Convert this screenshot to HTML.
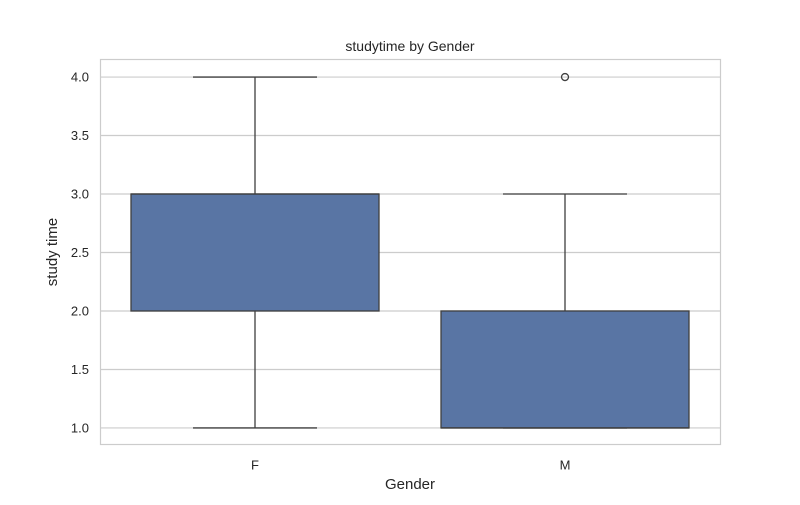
<!DOCTYPE html>
<html><head><meta charset="utf-8"><style>
body{margin:0;background:#fff;font-family:"Liberation Sans","DejaVu Sans",sans-serif;}
</style></head><body>
<svg id="chart" width="800" height="500" xmlns="http://www.w3.org/2000/svg">
<rect width="800" height="500" fill="#fff"/>
<g id="grid"></g>
<g id="boxes"></g>
<rect x="100.5" y="59.5" width="620" height="385" fill="none" stroke="#cccccc" stroke-width="1.2"/>
<g id="axes" font-size="13" fill="#262626"></g>
<text x="410" y="51" text-anchor="middle" font-size="14" fill="#262626">studytime by Gender</text>
<text x="410" y="489" text-anchor="middle" font-size="15" fill="#262626">Gender</text>
<text x="57" y="252" text-anchor="middle" font-size="15" fill="#262626" transform="rotate(-90 57 252)">study time</text>
</svg>
<script>
const categories=["F","M"];
const q1=[2,1];
const medians=[3,1];
const q3=[3,2];
const whiskLo=[1,1];
const whiskHi=[4,3];
const outliers=[[],[4]];
const yTicks=[1.0,1.5,2.0,2.5,3.0,3.5,4.0];
const NS="http://www.w3.org/2000/svg";
const L=100,R=720,T=59.5,B=445.5,yMin=0.85,yMax=4.15;
const y=v=>B-(v-yMin)/(yMax-yMin)*(B-T);
const x=i=>L+(i+0.5)/categories.length*(R-L);
const bw=(R-L)/categories.length*0.8;
function mk(tag,attrs,parent){const e=document.createElementNS(NS,tag);for(const k in attrs)e.setAttribute(k,attrs[k]);parent.appendChild(e);return e;}
const grid=document.getElementById('grid'),axes=document.getElementById('axes'),boxes=document.getElementById('boxes');
yTicks.forEach(t=>{
 const g=mk('line',{x1:L,x2:R,y1:y(t),y2:y(t),stroke:'#cccccc','stroke-width':1.2},grid);
 
 
 const tx=mk('text',{x:L-11,y:y(t)+4.5,'text-anchor':'end'},axes);tx.textContent=t.toFixed(1);
 
 
});
categories.forEach((c,i)=>{
 const tx=mk('text',{x:x(i),y:B+24,'text-anchor':'middle'},axes);tx.textContent=c;
 
 
 const g=mk('g',{},boxes);
 
 
 const st={stroke:'#3f3f3f','stroke-width':1.3};
 mk('line',Object.assign({x1:x(i),x2:x(i),y1:y(q3[i]),y2:y(whiskHi[i])},st),g);
 mk('line',Object.assign({x1:x(i),x2:x(i),y1:y(q1[i]),y2:y(whiskLo[i])},st),g);
 mk('line',Object.assign({x1:x(i)-bw/4,x2:x(i)+bw/4,y1:y(whiskHi[i]),y2:y(whiskHi[i])},st),g);
 mk('line',Object.assign({x1:x(i)-bw/4,x2:x(i)+bw/4,y1:y(whiskLo[i]),y2:y(whiskLo[i])},st),g);
 mk('rect',Object.assign({x:x(i)-bw/2,y:y(q3[i]),width:bw,height:y(q1[i])-y(q3[i]),fill:'#5975a4'},st),g);
 mk('line',Object.assign({x1:x(i)-bw/2,x2:x(i)+bw/2,y1:y(medians[i]),y2:y(medians[i])},st),g);
 outliers[i].forEach(o=>{
  const c2=mk('circle',{cx:x(i),cy:y(o),r:3.5,fill:'none',stroke:'#3f3f3f','stroke-width':1.3},g);
  
  
 });
});
</script>
</body></html>
